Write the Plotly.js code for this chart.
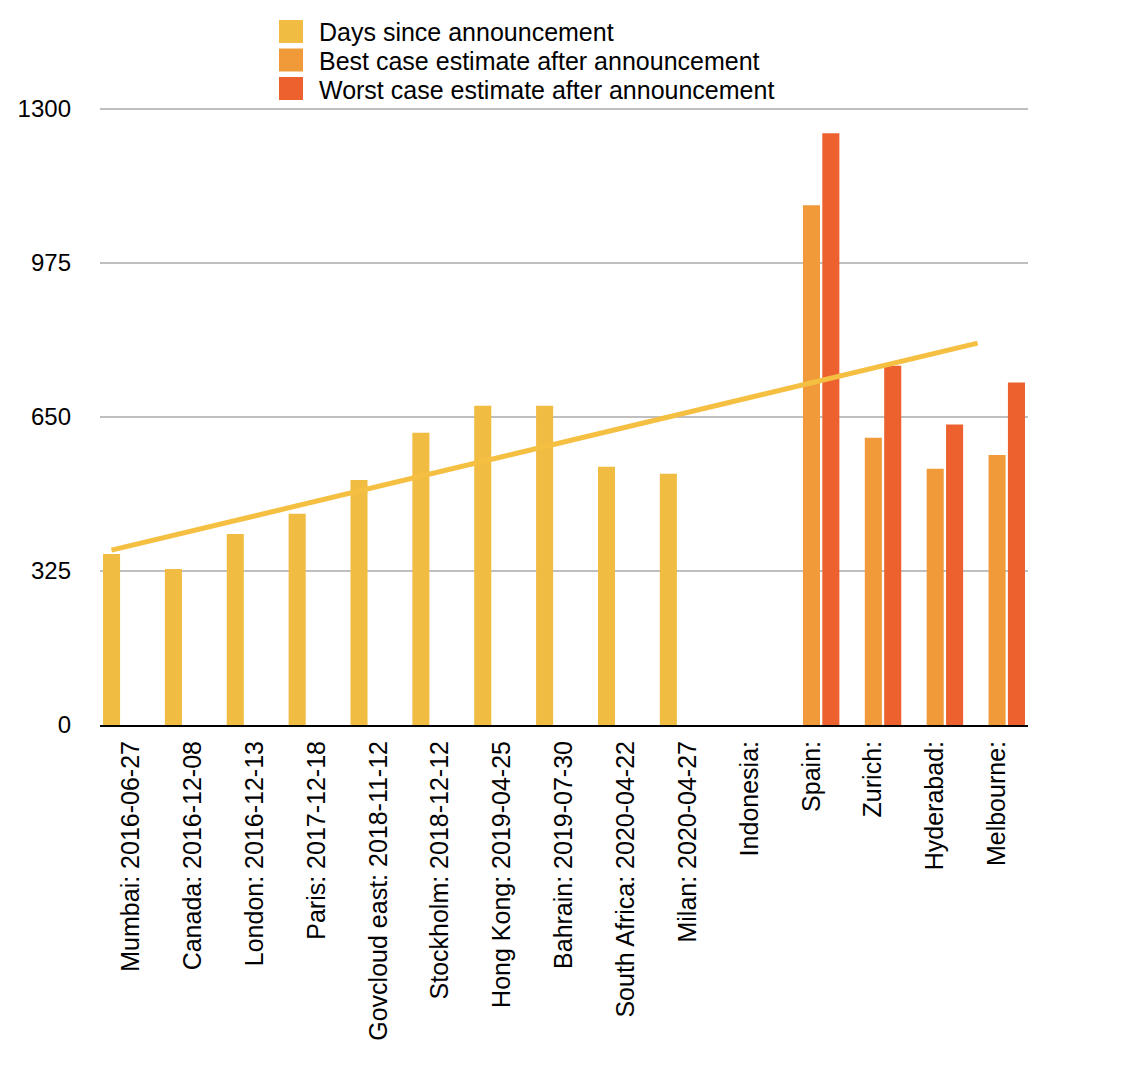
<!DOCTYPE html>
<html>
<head>
<meta charset="utf-8">
<script src="https://cdn.plot.ly/plotly-3.0.1.min.js"></script>
<style>
html,body{margin:0;padding:0;background:#fff;}
#chart{width:1128px;height:1072px;}
</style>
</head>
<body>
<div id="chart"></div>
<script>
var categories = ["Mumbai: 2016-06-27","Canada: 2016-12-08","London: 2016-12-13","Paris: 2017-12-18",
  "Govcloud east: 2018-11-12","Stockholm: 2018-12-12","Hong Kong: 2019-04-25","Bahrain: 2019-07-30",
  "South Africa: 2020-04-22","Milan: 2020-04-27","Indonesia:","Spain:","Zurich:","Hyderabad:","Melbourne:"];
var daysSince = [361,329,403,446,517,617,674,674,545,530,null,null,null,null,null];
var bestCase  = [null,null,null,null,null,null,null,null,null,null,null,1097,606,541,570];
var worstCase = [null,null,null,null,null,null,null,null,null,null,null,1249,758,634,723];
var trendX = [categories[0], categories[14]];
var trendY = [369, 806];
var yTicks = [0,325,650,975,1300];
var seriesNames = ['Days since announcement','Best case estimate after announcement','Worst case estimate after announcement'];
var seriesColors = ['#F0BC42','#F09A39','#EC612D'];

var FONT = "Liberation Sans, Arial, Helvetica, sans-serif";
var series = [daysSince, bestCase, worstCase];
var traces = series.map(function(vals, i){
  return {type:'bar', name:seriesNames[i], x:categories, y:vals, marker:{color:seriesColors[i]}, showlegend:false};
});
traces.push({type:'scatter', mode:'lines', x:trendX, y:trendY, xaxis:'x2', showlegend:false,
   line:{color:'#F5BF42', width:5}, hoverinfo:'skip'});

// layout geometry (pixels)
var W=1128, H=1072, ML=100, MR=100, MT=106, MB=347;
var PW = W-ML-MR, PH = H-MT-MB;
var yMax = 1300 * PH / 616;   // keep 1300 at 616px above the baseline, slightly below the plot top
function px2x(p){ return (p-ML)/PW; }
function px2y(p){ return (H-MB-p)/PH; }

// custom legend (squares + real text)
var legendRows = [31.5, 60, 88.5];
var shapes = [], annotations = [];
seriesNames.forEach(function(n, i){
  shapes.push({type:'rect', xref:'paper', yref:'paper', layer:'above',
    x0:px2x(279), x1:px2x(303), y0:px2y(legendRows[i]+11.5), y1:px2y(legendRows[i]-11.5),
    fillcolor:seriesColors[i], line:{width:0}});
  annotations.push({xref:'paper', yref:'paper', x:px2x(317), y:px2y(legendRows[i]+1), xanchor:'left', yanchor:'middle',
    text:n, showarrow:false, font:{family:FONT, size:25, color:'#000'}});
});

var off = 0.315;
var layout = {
  width:W, height:H,
  margin:{l:ML, r:MR, t:MT, b:MB, pad:0},
  paper_bgcolor:'#fff', plot_bgcolor:'#fff',
  font:{family:FONT, size:24, color:'#000'},
  barmode:'group', bargap:0.06, bargroupgap:0.12,
  showlegend:false,
  shapes:shapes, annotations:annotations,
  xaxis:{type:'category', categoryorder:'array', categoryarray:categories, range:[-0.5,14.5], tickangle:-90,
         showgrid:false, ticks:'', showline:true, linecolor:'#000', linewidth:2, zeroline:false,
         tickfont:{family:FONT, size:25, color:'#000'}, ticklabelstandoff:4, fixedrange:true},
  xaxis2:{type:'category', overlaying:'x', categoryorder:'array', categoryarray:categories,
          range:[-0.5+off,14.5+off], visible:false, fixedrange:true},
  yaxis:{range:[0,yMax], tickvals:yTicks, ticktext:yTicks.map(String), showgrid:true, gridcolor:'#BFBFBF', gridwidth:2,
         zeroline:false, showline:false, ticks:'', tickfont:{family:FONT, size:24, color:'#000'},
         ticklabelstandoff:28, fixedrange:true}
};
Plotly.newPlot('chart', traces, layout, {displayModeBar:false, staticPlot:true});
</script>
</body>
</html>
